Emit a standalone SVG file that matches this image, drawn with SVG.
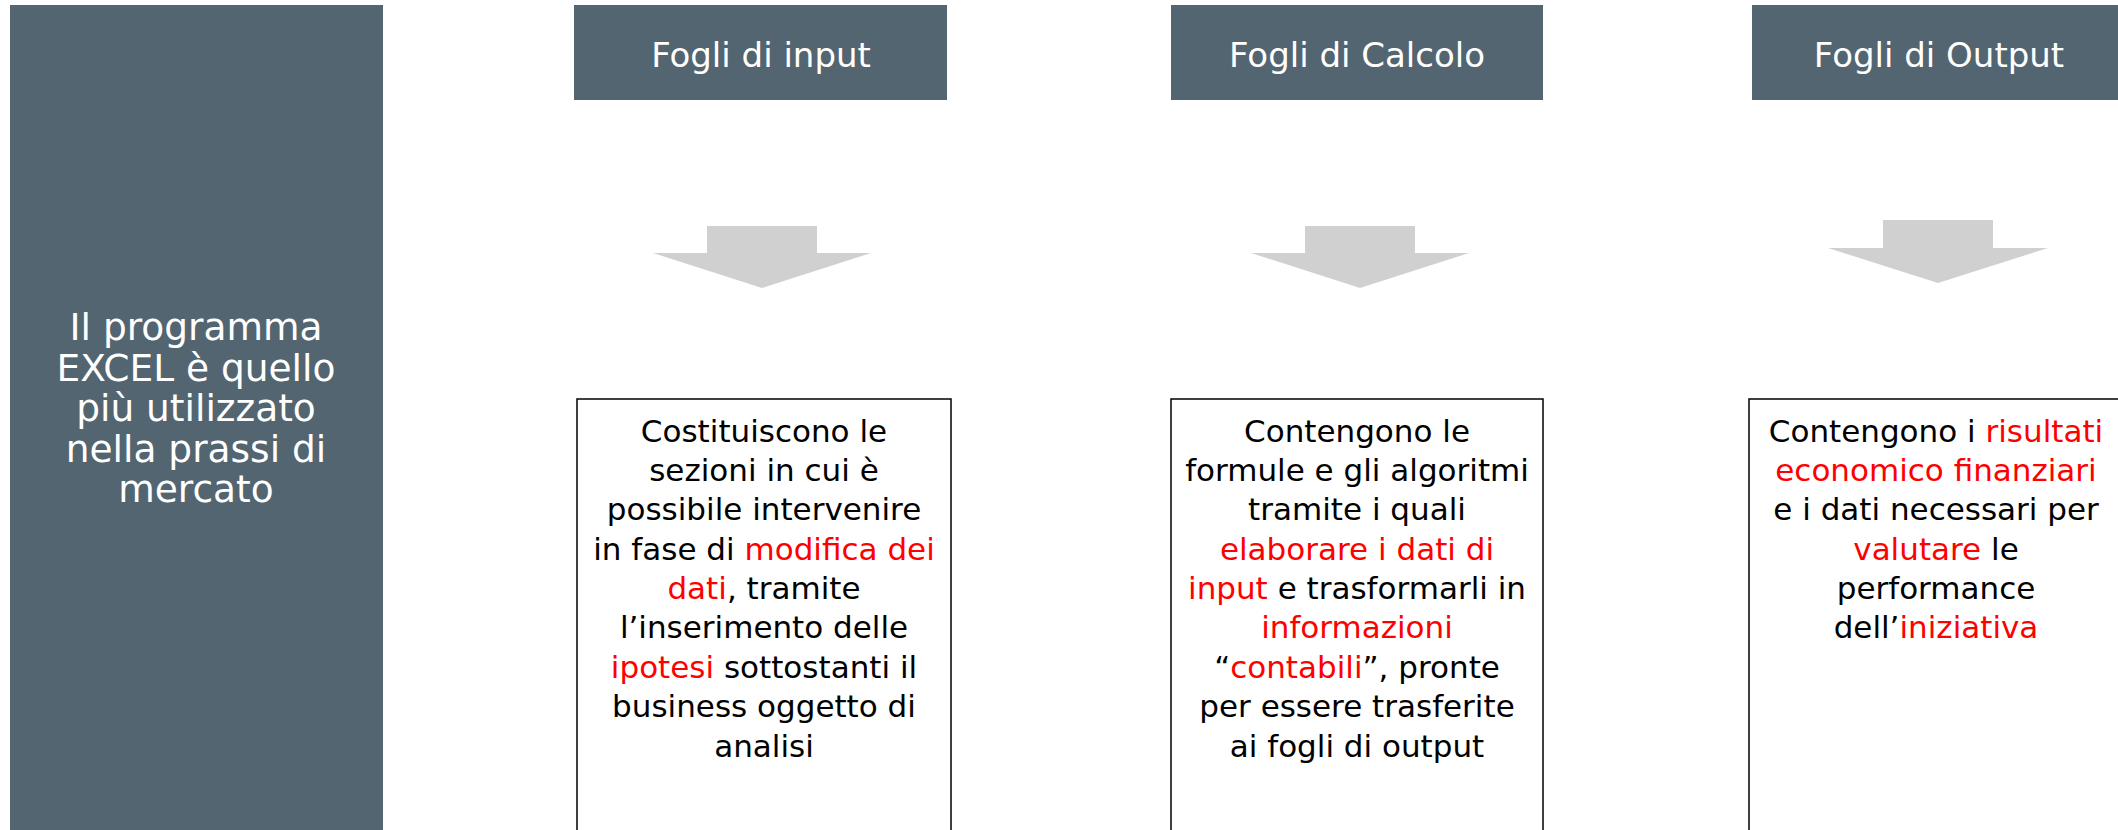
<svg xmlns="http://www.w3.org/2000/svg" width="2118" height="830" viewBox="0 0 2118 830">
<style>
.slate{fill:#536570}
.hdr{font-family:"DejaVu Sans",sans-serif;font-size:34px;fill:#ffffff;text-anchor:middle}
.side{font-family:"DejaVu Sans",sans-serif;font-size:37.5px;fill:#ffffff;text-anchor:middle}
.box{fill:#ffffff;stroke:#000000;stroke-width:1.5}
.body{font-family:"DejaVu Sans",sans-serif;font-size:31px;fill:#000000;text-anchor:middle}
.r{fill:#ff0000}
.arrow{fill:#d0d0d0}
</style>
<rect width="2118" height="830" fill="#ffffff"/>
<g id="side-panel">
<rect class="slate" x="10" y="5" width="373" height="830"/>
<text class="side" x="196" y="340">Il programma</text>
<text class="side" x="196" y="381">EXCEL è quello</text>
<text class="side" x="196" y="421">più utilizzato</text>
<text class="side" x="196" y="462">nella prassi di</text>
<text class="side" x="196" y="502">mercato</text>
</g>
<g id="header-input">
<rect class="slate" x="574" y="5" width="373" height="95"/>
<text class="hdr" x="761" y="67">Fogli di input</text>
</g>
<g id="header-calcolo">
<rect class="slate" x="1171" y="5" width="372" height="95"/>
<text class="hdr" x="1357" y="67">Fogli di Calcolo</text>
</g>
<g id="header-output">
<rect class="slate" x="1752" y="5" width="373" height="95"/>
<text class="hdr" x="1939" y="67">Fogli di Output</text>
</g>
<g id="connectors">
<polygon class="arrow" points="707,226 817,226 817,253 871,253 762,288 653,253 707,253"/>
<polygon class="arrow" points="1305,226 1415,226 1415,253 1469,253 1360,288 1251,253 1305,253"/>
<polygon class="arrow" points="1883,220 1993,220 1993,248 2048,248 1938,283 1828,248 1883,248"/>
</g>
<g id="box-input">
<rect class="box" x="577" y="399" width="374" height="450"/>
<text class="body" x="764" y="442">Costituiscono le</text>
<text class="body" x="764" y="481">sezioni in cui è</text>
<text class="body" x="764" y="520">possibile intervenire</text>
<text class="body" x="764" y="560">in fase di <tspan class="r">modifica dei</tspan></text>
<text class="body" x="764" y="599"><tspan class="r">dati</tspan>, tramite</text>
<text class="body" x="764" y="638">l’inserimento delle</text>
<text class="body" x="764" y="678"><tspan class="r">ipotesi</tspan> sottostanti il</text>
<text class="body" x="764" y="717">business oggetto di</text>
<text class="body" x="764" y="757">analisi</text>
</g>
<g id="box-calcolo">
<rect class="box" x="1171" y="399" width="372" height="450"/>
<text class="body" x="1357" y="442">Contengono le</text>
<text class="body" x="1357" y="481">formule e gli algoritmi</text>
<text class="body" x="1357" y="520">tramite i quali</text>
<text class="body" x="1357" y="560"><tspan class="r">elaborare i dati di</tspan></text>
<text class="body" x="1357" y="599"><tspan class="r">input</tspan> e trasformarli in</text>
<text class="body" x="1357" y="638"><tspan class="r">informazioni</tspan></text>
<text class="body" x="1357" y="678">“<tspan class="r">contabili</tspan>”, pronte</text>
<text class="body" x="1357" y="717">per essere trasferite</text>
<text class="body" x="1357" y="757">ai fogli di output</text>
</g>
<g id="box-output">
<rect class="box" x="1749" y="399" width="374" height="450"/>
<text class="body" x="1936" y="442">Contengono i <tspan class="r">risultati</tspan></text>
<text class="body" x="1936" y="481"><tspan class="r">economico finanziari</tspan></text>
<text class="body" x="1936" y="520">e i dati necessari per</text>
<text class="body" x="1936" y="560"><tspan class="r">valutare</tspan> le</text>
<text class="body" x="1936" y="599">performance</text>
<text class="body" x="1936" y="638">dell’<tspan class="r">iniziativa</tspan></text>
</g>
</svg>
